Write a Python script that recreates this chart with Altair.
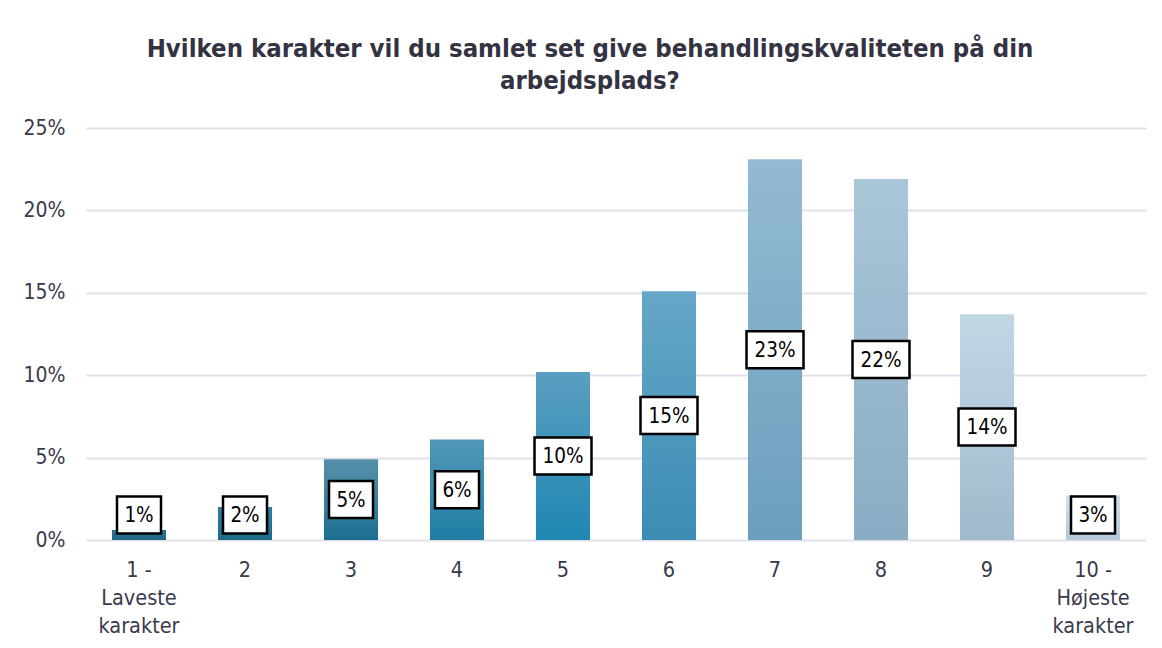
import altair as alt
import pandas as pd

categories = ["1 -\nLaveste\nkarakter", "2", "3", "4", "5", "6", "7", "8", "9", "10 -\nHøjeste\nkarakter"]
values = [0.006, 0.020, 0.049, 0.061, 0.102, 0.151, 0.231, 0.219, 0.137, 0.027]
labels = ["1%", "2%", "5%", "6%", "10%", "15%", "23%", "22%", "14%", "3%"]
top_colors = ["#2a7294", "#307e9e", "#5690ab", "#5097b7", "#5a9ec1", "#66a7c8", "#94bad3", "#aac6d9", "#c2d7e4", "#d0dfea"]
bottom_colors = ["#1e6888", "#1e6a8a", "#1c6f92", "#1f7ea4", "#1f87b2", "#3b8cb4", "#6a9fbd", "#8aacc4", "#9fbacd", "#b5c9d8"]

FONT = "DejaVu Sans Condensed, DejaVu Sans, sans-serif"
TEXT_COLOR = "#3a3a4c"

df = pd.DataFrame({"cat": categories, "value": values, "label": labels})
df["digits"] = [len(l) - 1 for l in labels]

x_axis = alt.Axis(
    title=None,
    labelAngle=0,
    labelExpr="split(datum.label, '\\n')",
    labelFontSize=21.5,
    labelFont=FONT,
    labelColor=TEXT_COLOR,
    labelLineHeight=28,
    labelPadding=19,
    labelBaseline="top",
    domain=False,
    ticks=False,
    grid=False,
)
x_scale = alt.Scale(domain=categories, paddingInner=0.49, paddingOuter=0.245)
x_enc = alt.X("cat:N", sort=categories, scale=x_scale, axis=x_axis)
y_enc = alt.Y(
    "value:Q",
    scale=alt.Scale(domain=[0, 0.25], nice=False),
    axis=alt.Axis(
        title=None,
        values=[0, 0.05, 0.10, 0.15, 0.20, 0.25],
        format=".0%",
        labelFontSize=21,
        labelFont=FONT,
        labelColor=TEXT_COLOR,
        labelPadding=21,
        domain=False,
        ticks=False,
        gridColor="#e1e0e8",
        gridWidth=2,
    ),
)

base = alt.Chart(df)

bar_layers = []
for cat, top, bot in zip(categories, top_colors, bottom_colors):
    grad = alt.Gradient(
        gradient="linear",
        stops=[alt.GradientStop(color=top, offset=0), alt.GradientStop(color=bot, offset=1)],
        x1=0, x2=0, y1=0, y2=1,
    )
    bar_layers.append(
        base.transform_filter(alt.datum.cat == cat)
        .mark_bar(color=grad)
        .encode(x=x_enc, y=y_enc)
    )

label_base = base.transform_calculate(pos="max(datum.value / 2, 0.0152)")

boxes = label_base.mark_point(
    filled=True, fill="white", stroke="black", strokeWidth=2.5, opacity=1, size=4
).encode(
    x=x_enc,
    y=alt.Y("pos:Q"),
    shape=alt.Shape(
        "digits:O",
        scale=alt.Scale(
            domain=[1, 2],
            range=["M-22,-18.5H22V18.5H-22Z", "M-28.5,-18.5H28.5V18.5H-28.5Z"],
        ),
        legend=None,
    ),
)

texts = label_base.mark_text(
    font=FONT, fontSize=20.5, color="black", baseline="middle", align="center", dy=1
).encode(
    x=x_enc,
    y=alt.Y("pos:Q"),
    text="label:N",
)

chart = alt.layer(*bar_layers, boxes, texts).properties(
    width=1060,
    height=412,
    autosize="none",
    padding={"left": 78, "top": 120, "right": 8, "bottom": 104},
    view=alt.ViewBackground(stroke="transparent", strokeWidth=0),
    title=alt.Title(
        text=["Hvilken karakter vil du samlet set give behandlingskvaliteten på din", "arbejdsplads?"],
        fontSize=25.5,
        fontWeight="bold",
        font=FONT,
        color="#333342",
        anchor="middle",
        dx=-26,
        offset=23,
        lineHeight=32,
    ),
).configure_view(strokeWidth=0, stroke="transparent").configure(background="white")

chart.save("out.html", embed_options={"renderer": "svg", "actions": False})
